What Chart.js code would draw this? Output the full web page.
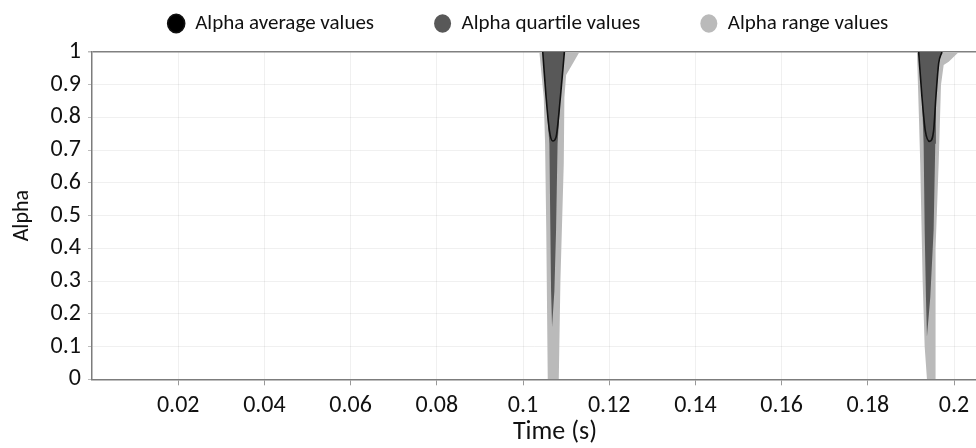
<!DOCTYPE html>
<html>
<head>
<meta charset="utf-8">
<script src="https://cdn.jsdelivr.net/npm/chart.js@4.4.0/dist/chart.umd.min.js"></script>
<style>
  html, body { margin: 0; padding: 0; background: #fff; }
  #wrap { width: 976px; height: 448px; }
</style>
</head>
<body>
<div id="wrap"><canvas id="alphaChart" width="976" height="448"></canvas></div>
<script>
// values (time in s, alpha 0..1)
const rangeTime = [0, 0.10379, 0.10481, 0.10512, 0.10540, 0.10574, 0.10830, 0.10868, 0.10946, 0.10960, 0.11000, 0.11156, 0.11309,
  0.19140, 0.19186, 0.19216, 0.19272, 0.19319, 0.19372, 0.19565, 0.19572, 0.19644, 0.19698, 0.19760, 0.19877, 0.20109, 0.2051];
const rangeAlpha = [1, 1, 0.86, 0.72, 0.45, 0, 0, 0.3, 0.66, 0.86, 0.93, 0.965, 1,
  1, 0.8, 0.66, 0.3, 0.1, 0, 0, 0.4, 0.66, 0.9, 0.96, 0.97, 1, 1];

const quartileTime = [0, 0.10458, 0.10535, 0.10612, 0.10635, 0.10651, 0.10674, 0.10728, 0.10767, 0.10802, 0.10868, 0.10923, 0.10960,
  0.19179, 0.19256, 0.19295, 0.19319, 0.19349, 0.19372, 0.19449, 0.19527, 0.19565, 0.19580, 0.19644, 0.19720, 0.2051];
const quartileAlpha = [1, 1, 0.863, 0.72, 0.456, 0.27, 0.16, 0.27, 0.456, 0.72, 0.863, 0.944, 1,
  1, 0.863, 0.72, 0.456, 0.25, 0.13, 0.25, 0.456, 0.72, 0.863, 0.965, 1, 1];

const averageTime = [0.10458, 0.10535, 0.10612, 0.10690, 0.10767, 0.10868, 0.10923, 0.10960, 0.15,
  0.19179, 0.19256, 0.19333, 0.19434, 0.19527, 0.19580, 0.19644, 0.19720];
const averageAlpha = [1, 0.863, 0.76, 0.728, 0.74, 0.863, 0.944, 1, null,
  1, 0.863, 0.76, 0.727, 0.76, 0.863, 0.965, 1];

const xTicks = [0.02, 0.04, 0.06, 0.08, 0.1, 0.12, 0.14, 0.16, 0.18, 0.2];
const yTicks = [0, 0.1, 0.2, 0.3, 0.4, 0.5, 0.6, 0.7, 0.8, 0.9, 1];

const font = "Carlito, 'Open Sans', sans-serif";

function toPoints(times, values) {
  return times.map((t, i) => ({ x: t, y: values[i] }));
}

// squeeze the legend into the strip above the plot, nudge x title right
const layoutTweaks = {
  id: "layoutTweaks",
  beforeInit(chart) {
    const fit = chart.legend.fit;
    chart.legend.fit = function () {
      fit.call(this);
      this.height = 52;
    };
  },
  afterLayout(chart) {
    const lg = chart.legend;
    lg.top -= 47;
    lg.left += 40;
    lg.right += 40;

    const sx = chart.scales.x;
    if (!sx._titleShifted) {
      const drawTitle = sx.drawTitle;
      sx.drawTitle = function () {
        this.ctx.save();
        this.ctx.translate(21, 0);
        drawTitle.call(this);
        this.ctx.restore();
      };
      sx._titleShifted = true;
    }
  }
};

const config = {
  type: "line",
  data: {
    datasets: [
      {
        label: "Alpha average values",
        data: toPoints(averageTime, averageAlpha),
        borderColor: "#111",
        backgroundColor: "#000",
        borderWidth: 1.6,
        pointRadius: 0,
        fill: false,
        spanGaps: false,
        cubicInterpolationMode: "monotone"
      },
      {
        label: "Alpha quartile values",
        data: toPoints(quartileTime, quartileAlpha),
        borderColor: "#585858",
        backgroundColor: "#585858",
        borderWidth: 0,
        pointRadius: 0,
        fill: "end"
      },
      {
        label: "Alpha range values",
        data: toPoints(rangeTime, rangeAlpha),
        borderColor: "#bababa",
        backgroundColor: "#bababa",
        borderWidth: 0,
        pointRadius: 0,
        fill: "end"
      }
    ]
  },
  options: {
    responsive: false,
    animation: false,
    layout: { padding: 0 },
    plugins: {
      tooltip: { enabled: false },
      legend: {
        position: "top",
        labels: {
          usePointStyle: true,
          pointStyle: "circle",
          boxHeight: 13,
          pointStyleWidth: 17,
          padding: 60,
          color: "#111",
          font: { family: font, size: 21 }
        }
      }
    },
    scales: {
      x: {
        type: "linear",
        min: 0,
        max: 0.2051,
        z: 1,
        afterBuildTicks: (scale) => { scale.ticks = xTicks.map((v) => ({ value: v })); },
        afterFit: (scale) => { scale.height = 68.7; },
        ticks: {
          padding: 6,
          color: "#111",
          maxRotation: 0,
          autoSkip: false,
          font: { family: font, size: 24 },
          callback: (v) => String(v)
        },
        grid: {
          color: "rgba(0,0,0,0.06)",
          tickColor: "#999",
          tickLength: 6
        },
        border: { color: "#7c7c7c", width: 1.5 },
        title: {
          display: true,
          text: "Time (s)",
          color: "#111",
          padding: 0,
          font: { family: font, size: 26 }
        }
      },
      y: {
        min: 0,
        max: 1,
        z: 1,
        afterBuildTicks: (scale) => { scale.ticks = yTicks.map((v) => ({ value: v })); },
        afterFit: (scale) => { scale.width = 92; },
        ticks: {
          padding: 7,
          color: "#111",
          font: { family: font, size: 24 },
          callback: (v) => String(v)
        },
        grid: {
          color: (ctx) => (ctx.tick && ctx.tick.value === 1 ? "#808080" : "rgba(0,0,0,0.06)"),
          lineWidth: (ctx) => (ctx.tick && ctx.tick.value === 1 ? 1.5 : 1),
          tickColor: "#bbb",
          tickLength: 4
        },
        border: { color: "#7c7c7c", width: 1.5 },
        title: {
          display: true,
          text: "Alpha",
          color: "#111",
          padding: 9,
          font: { family: font, size: 22 }
        }
      }
    }
  },
  plugins: [layoutTweaks]
};

const alphaChart = new Chart(document.getElementById("alphaChart"), config);
</script>
</body>
</html>
